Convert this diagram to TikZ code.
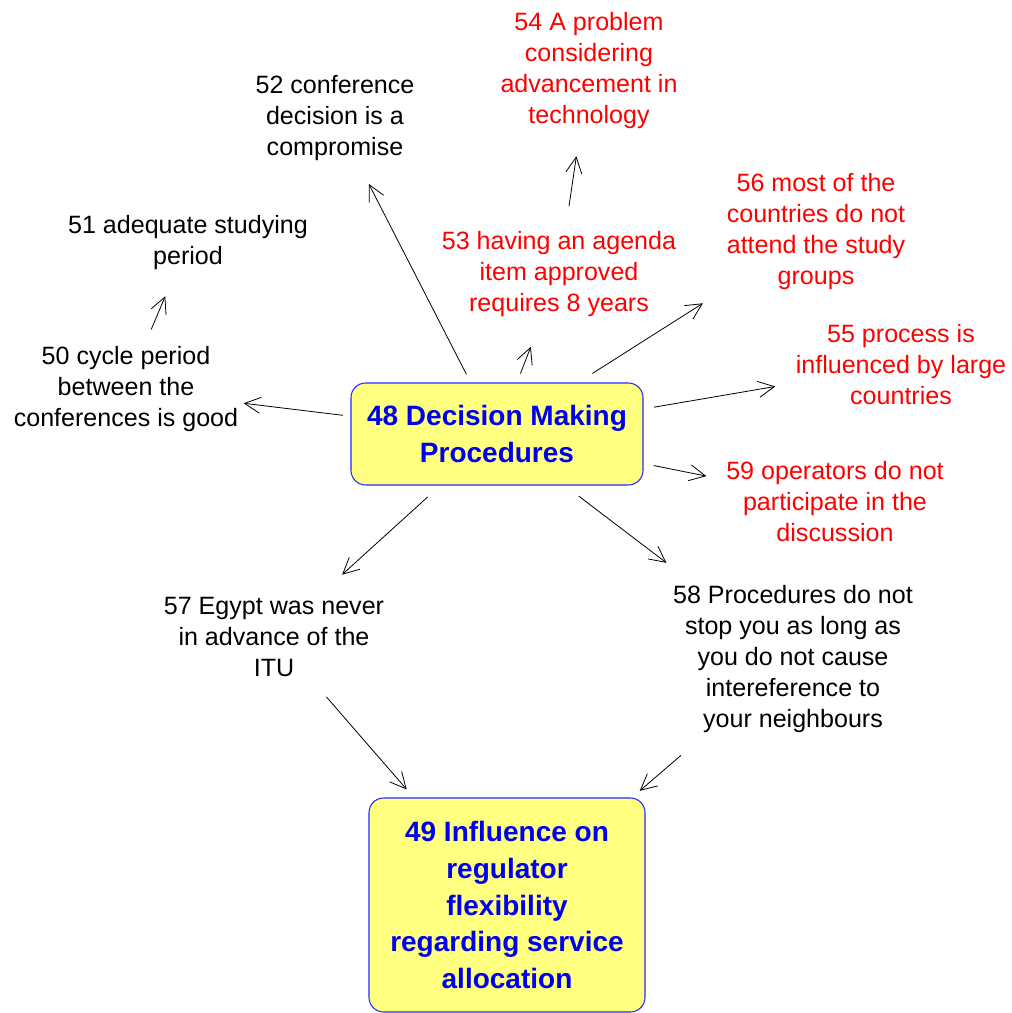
\documentclass[tikz,border=0pt]{standalone}
\usepackage{fontspec}
\setmainfont{Liberation Sans}
\usetikzlibrary{arrows.meta}
\definecolor{txtred}{RGB}{255,0,0}
\definecolor{txtblue}{RGB}{0,0,240}
\definecolor{boxfill}{RGB}{255,255,128}
\definecolor{boxline}{RGB}{40,40,255}
\begin{document}
\begin{tikzpicture}[x=0.75pt,y=-0.75pt,
  idea/.style={inner sep=0pt, align=center, yshift=-2.25pt,
    font=\fontsize{18.8pt}{23.25pt}\selectfont},
  blackidea/.style={idea, text=black},
  redidea/.style={idea, text=txtred},
  mainbox/.style={draw=boxline, line width=0.8pt, fill=boxfill,
    rounded corners=11pt, inner sep=0pt, align=center, text=txtblue,
    font=\fontsize{21pt}{27.5pt}\selectfont\bfseries},
  conn/.style={draw=black, line width=0.6pt,
    -{Straight Barb[length=12pt,width=12pt,line width=0.6pt]}}
]
\useasboundingbox (0,0) rectangle (1011,1013);

% central concepts
\node[mainbox, minimum width=219pt, minimum height=76.5pt] (n48) at (497,434)
  {48 Decision Making\\Procedures};
\node[mainbox, minimum width=207pt, minimum height=160.5pt] (n49) at (507,905)
  {49 Influence on\\regulator\\flexibility\\regarding service\\allocation};

% surrounding statements
\node[redidea]   (n54) at (589,67.5) {54 A problem\\considering\\advancement in\\technology};
\node[blackidea] (n52) at (335,115)  {52 conference\\decision is a\\compromise};
\node[blackidea] (n51) at (188,239.5) {51 adequate studying\\period};
\node[redidea]   (n53) at (559,271)  {53 having an agenda\\item approved\\requires 8 years};
\node[redidea]   (n56) at (816,228.5) {56 most of the\\countries do not\\attend the study\\groups};
\node[redidea]   (n55) at (901,362)  {55 process is\\influenced by large\\countries};
\node[blackidea] (n50) at (126,386)  {50 cycle period\\between the\\conferences is good};
\node[redidea]   (n59) at (835,499)  {59 operators do not\\participate in the\\discussion};
\node[blackidea] (n57) at (274,633.5) {57 Egypt was never\\in advance of the\\ITU};
\node[blackidea] (n58) at (793,656)  {58 Procedures do not\\stop you as long as\\you do not cause\\intereference to\\your neighbours};

% links
\draw[conn, shorten <=50.3pt, shorten >=55.5pt] (n48.center) -- (n52.center);
\draw[conn, shorten <=48.6pt, shorten >=58.5pt] (n48.center) -- (n53.center);
\draw[conn, shorten <=51.4pt, shorten >=65pt]   (n53.center) -- (n54.center);
\draw[conn, shorten <=84.7pt, shorten >=100.5pt] (n48.center) -- (n56.center);
\draw[conn, shorten <=119.5pt, shorten >=95.7pt] (n48.center) -- (n55.center);
\draw[conn, shorten <=119.9pt, shorten >=98.4pt] (n48.center) -- (n59.center);
\draw[conn, shorten <=116.4pt, shorten >=88.9pt] (n48.center) -- (n50.center);
\draw[conn, shorten <=48.5pt, shorten >=43.8pt] (n50.center) -- (n51.center);
\draw[conn, shorten <=70.1pt, shorten >=69pt] (n48.center) -- (n57.center);
\draw[conn, shorten <=77pt, shorten >=119.2pt] (n48.center) -- (n58.center);
\draw[conn, shorten <=60pt, shorten >=114.8pt] (n57.center) -- (n49.center);
\draw[conn, shorten <=110.8pt, shorten >=131.3pt] (n58.center) -- (n49.center);
\end{tikzpicture}
\end{document}
